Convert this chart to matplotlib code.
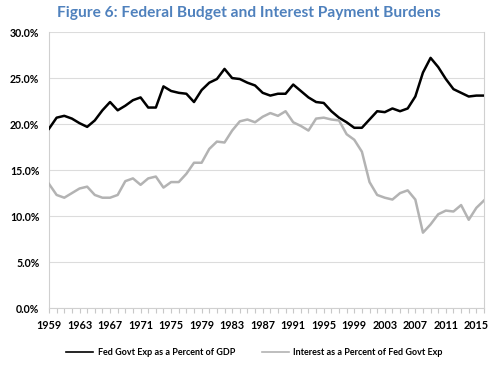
import matplotlib
matplotlib.use("Agg")
import matplotlib.pyplot as plt
from matplotlib.ticker import FuncFormatter, MultipleLocator

years = list(range(1959, 2017))
fed_exp_gdp = [19.5, 20.7, 20.9, 20.6, 20.1, 19.7, 20.4, 21.5, 22.4, 21.5,
               22.0, 22.6, 22.9, 21.8, 21.8, 24.1, 23.6, 23.4, 23.3, 22.4,
               23.7, 24.5, 24.9, 26.0, 25.0, 24.9, 24.5, 24.2, 23.4, 23.1,
               23.3, 23.3, 24.3, 23.6, 22.9, 22.4, 22.3, 21.4, 20.7, 20.2,
               19.6, 19.6, 20.5, 21.4, 21.3, 21.7, 21.4, 21.7, 23.0, 25.6,
               27.2, 26.2, 24.9, 23.8, 23.4, 23.0, 23.1, 23.1]
interest_pct_exp = [13.5, 12.3, 12.0, 12.5, 13.0, 13.2, 12.3, 12.0, 12.0, 12.3,
                    13.8, 14.1, 13.4, 14.1, 14.3, 13.1, 13.7, 13.7, 14.6, 15.8,
                    15.8, 17.3, 18.1, 18.0, 19.3, 20.3, 20.5, 20.2, 20.8, 21.2,
                    20.9, 21.4, 20.2, 19.8, 19.3, 20.6, 20.7, 20.5, 20.4, 18.9,
                    18.3, 17.0, 13.7, 12.3, 12.0, 11.8, 12.5, 12.8, 11.8, 8.2,
                    9.1, 10.2, 10.6, 10.5, 11.2, 9.6, 10.9, 11.7]
tick_years = list(range(1959, 2016, 4))
series_labels = ["Fed Govt Exp as a Percent of GDP",
                 "Interest as a Percent of Fed Govt Exp"]
title = "Figure 6: Federal Budget and Interest Payment Burdens"

plt.rcParams['font.family'] = ['Lato', 'DejaVu Sans']

fig = plt.figure(figsize=(5, 3.69), dpi=100)
ax = fig.add_axes([0.098, 0.165, 0.87, 0.748])

ax.plot(years, fed_exp_gdp, color='black', lw=1.8, label=series_labels[0], zorder=3)
ax.plot(years, interest_pct_exp, color='#b3b3b3', lw=1.8, label=series_labels[1], zorder=3)

ax.set_xlim(1959, 2016)
ax.set_ylim(0, 30)
ax.yaxis.set_major_locator(MultipleLocator(5))
ax.yaxis.set_major_formatter(FuncFormatter(lambda v, p: f"{v:.1f}%"))
ax.set_xticks(tick_years)
ax.set_xticks(years, minor=True)
ax.grid(axis='y', color='#dcdcdc', lw=0.8, zorder=0)

for s in ['top']:
    ax.spines[s].set_visible(False)
for s in ['left', 'right', 'bottom']:
    ax.spines[s].set_color('#d0d0d0')
    ax.spines[s].set_linewidth(0.8)

ax.tick_params(axis='y', length=0, pad=7, labelsize=7.6)
ax.tick_params(axis='x', which='both', direction='out', length=3.5,
               color='#c8c8c8', width=0.8, labelsize=7.8, pad=5)
for lbl in ax.get_xticklabels() + ax.get_yticklabels():
    lbl.set_fontweight('bold')

fig.text(0.498, 0.965, title, ha='center', va='center', fontsize=11.2,
         fontweight='bold', color='#4F81BD')

leg = fig.legend(loc='center', bbox_to_anchor=(0.509, 0.045), ncol=2, frameon=False,
                 prop={'size': 6.5, 'weight': 'bold'}, handlelength=3.0,
                 columnspacing=3.0, handletextpad=0.45)
for line in leg.get_lines():
    line.set_linewidth(1.2)

fig.savefig('out.png', dpi=100)
